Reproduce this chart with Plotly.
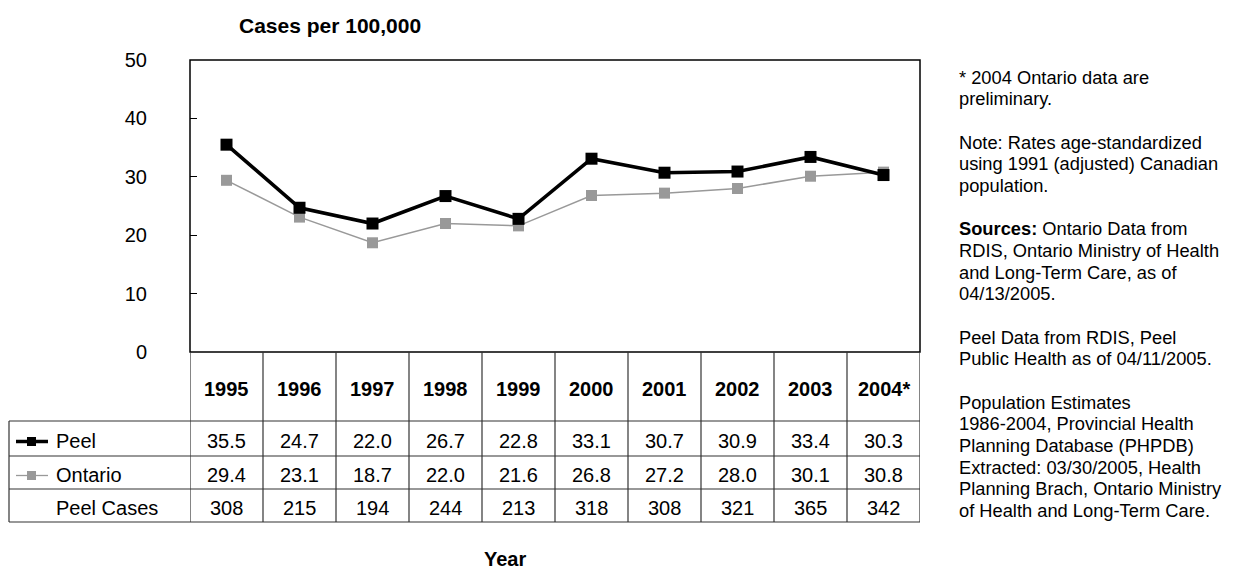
import plotly.graph_objects as go

years = ["1995", "1996", "1997", "1998", "1999", "2000", "2001", "2002", "2003", "2004*"]
peel = [35.5, 24.7, 22.0, 26.7, 22.8, 33.1, 30.7, 30.9, 33.4, 30.3]
ontario = [29.4, 23.1, 18.7, 22.0, 21.6, 26.8, 27.2, 28.0, 30.1, 30.8]
peel_cases = [308, 215, 194, 244, 213, 318, 308, 321, 365, 342]
y_ticks = [0, 10, 20, 30, 40, 50]
row_labels = ["Peel", "Ontario", "Peel Cases"]

note_lines = [
    "* 2004 Ontario data are", "preliminary.", "",
    "Note: Rates age-standardized", "using 1991 (adjusted) Canadian", "population.", "",
    "<b>Sources:</b> Ontario Data from", "RDIS, Ontario Ministry of Health",
    "and Long-Term Care, as of", "04/13/2005.", "",
    "Peel Data from RDIS, Peel", "Public Health as of 04/11/2005.", "",
    "Population Estimates", "1986-2004, Provincial Health", "Planning Database (PHPDB)",
    "Extracted: 03/30/2005, Health", "Planning Brach, Ontario Ministry",
    "of Health and Long-Term Care.",
]

W, H = 1236, 570
OFF = 8  # page body margin
L, R, T, B = 190, 920, 60, 352
PW, PH = R - L, B - T
FONT = "Arial, Liberation Sans, sans-serif"


def px(x):
    return (x - L) / PW


def py(y):
    return (B - y) / PH


xs = list(range(len(years)))

fig = go.Figure()
fig.add_trace(go.Scatter(x=xs, y=ontario, mode="lines+markers", name="Ontario",
                         line=dict(color="#999999", width=1.5),
                         marker=dict(symbol="square", size=11, color="#999999"),
                         cliponaxis=False))
fig.add_trace(go.Scatter(x=xs, y=peel, mode="lines+markers", name="Peel",
                         line=dict(color="black", width=3.6),
                         marker=dict(symbol="square", size=12, color="black"),
                         cliponaxis=False))

shapes = []
annotations = []

# plot frame
shapes.append(dict(type="rect", xref="paper", yref="paper", x0=0, x1=1, y0=0, y1=1,
                   line=dict(color="black", width=1.5)))

# table geometry (pixel rows)
row_lines = [B, 421, 456, 489, 522]
tbl_left = 9
for yl in row_lines[1:]:
    shapes.append(dict(type="line", xref="paper", yref="paper", x0=px(tbl_left), x1=px(R),
                       y0=py(yl), y1=py(yl), line=dict(color="#333333", width=1.2)))
shapes.append(dict(type="line", xref="paper", yref="paper", x0=px(tbl_left), x1=px(tbl_left),
                   y0=py(421), y1=py(522), line=dict(color="#333333", width=1.2)))
for i in range(len(years) + 1):
    xv = i - 0.5
    shapes.append(dict(type="line", xref="x", yref="paper", x0=xv, x1=xv,
                       y0=py(B), y1=py(522), line=dict(color="#333333", width=1.2)))


def cy(a, b):
    return py((a + b) / 2 + 2)


TF = dict(family=FONT, size=20, color="black")
for i, yr in enumerate(years):
    cells = ["<b>%s</b>" % yr, "%.1f" % peel[i], "%.1f" % ontario[i], "%d" % peel_cases[i]]
    for k, txt in enumerate(cells):
        annotations.append(dict(x=i, y=cy(row_lines[k], row_lines[k + 1]), xref="x",
                                yref="paper", text=txt, showarrow=False,
                                xanchor="center", yanchor="middle", font=TF))

for k, lab in enumerate(row_labels):
    annotations.append(dict(x=px(54), y=cy(row_lines[k + 1], row_lines[k + 2]),
                            xref="paper", yref="paper", text=lab, showarrow=False,
                            xanchor="left", yanchor="middle", font=TF))

# legend keys in table
ky = (421 + 456) / 2 + 3
shapes.append(dict(type="line", xref="paper", yref="paper", x0=px(16), x1=px(48),
                   y0=py(ky), y1=py(ky), line=dict(color="black", width=3.5)))
shapes.append(dict(type="rect", xref="paper", yref="paper", x0=px(27), x1=px(36),
                   y0=py(ky - 4.5), y1=py(ky + 4.5), line=dict(width=0), fillcolor="black"))
ky2 = (456 + 489) / 2 + 3
shapes.append(dict(type="line", xref="paper", yref="paper", x0=px(16), x1=px(48),
                   y0=py(ky2), y1=py(ky2), line=dict(color="#999999", width=1.3)))
shapes.append(dict(type="rect", xref="paper", yref="paper", x0=px(27), x1=px(36),
                   y0=py(ky2 - 4.5), y1=py(ky2 + 4.5), line=dict(width=0), fillcolor="#999999"))

# titles
annotations.append(dict(x=px(330), y=py(25), xref="paper", yref="paper",
                        text="<b>Cases per 100,000</b>", showarrow=False,
                        xanchor="center", yanchor="middle",
                        font=dict(family=FONT, size=21, color="black")))
annotations.append(dict(x=px(505), y=py(559), xref="paper", yref="paper",
                        text="<b>Year</b>", showarrow=False,
                        xanchor="center", yanchor="middle",
                        font=dict(family=FONT, size=20, color="black")))

# side notes
for j, line in enumerate(note_lines):
    if not line:
        continue
    annotations.append(dict(x=px(957), y=py(77 + 21.67 * j), xref="paper", yref="paper",
                            text=line, showarrow=False, xanchor="left", yanchor="middle",
                            font=dict(family=FONT, size=18.3, color="black")))

fig.update_layout(
    width=W - OFF, height=H - OFF,
    margin=dict(l=L - OFF, r=W - R, t=T - OFF, b=H - B, pad=0),
    paper_bgcolor="white", plot_bgcolor="white",
    showlegend=False,
    shapes=shapes, annotations=annotations,
    font=dict(family=FONT, color="black"),
    xaxis=dict(range=[-0.5, len(years) - 0.5], showticklabels=False, showgrid=False,
               zeroline=False, showline=False, ticks=""),
    yaxis=dict(range=[0, 50], tickvals=y_ticks, ticks="inside", ticklen=7,
               tickcolor="black", tickwidth=1.2, showgrid=False, zeroline=False,
               showline=False, ticklabelstandoff=42,
               tickfont=dict(family=FONT, size=20, color="black")),
)

fig.write_html("out.html")
